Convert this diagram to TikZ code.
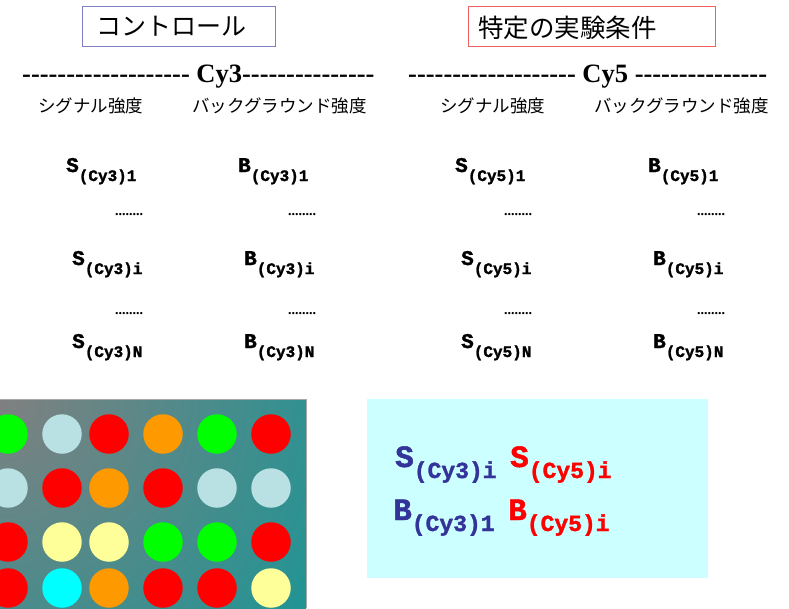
\documentclass[tikz,border=0pt]{standalone}
\usepackage{fontspec}
\newfontfamily\jp{Noto Sans CJK JP}
\newfontfamily\mono[BoldFeatures={FakeBold=1.5}]{Liberation Mono}
\newfontfamily\serifb{Liberation Serif}
\definecolor{boxblue}{HTML}{8080C0}
\definecolor{boxred}{HTML}{F06060}
\definecolor{labblue}{HTML}{333399}
\definecolor{labred}{HTML}{FF0000}
\definecolor{panelcyan}{HTML}{CCFFFF}
\definecolor{teal0}{HTML}{0F9898}
\definecolor{gray0}{HTML}{808080}
\definecolor{dgreen}{HTML}{00FF00}
\definecolor{dlblue}{HTML}{B9E0E3}
\definecolor{dred}{HTML}{FF0000}
\definecolor{dorange}{HTML}{FF9900}
\definecolor{dyellow}{HTML}{FFFF99}
\definecolor{dcyan}{HTML}{00FFFF}
\newcommand\smlab[2]{{\fontsize{21}{21}\selectfont #1}\raisebox{-9pt}{\fontsize{16}{16}\selectfont #2}}
\newcommand\bglab[2]{{\fontsize{31}{31}\selectfont #1}\raisebox{-11pt}{\fontsize{23}{23}\selectfont #2}}
\tikzset{
  hdr/.style={anchor=west, inner sep=0pt, font=\jp\fontsize{17.5}{17.5}\selectfont},
  dye/.style={anchor=base west, inner sep=0pt, font=\serifb\bfseries\fontsize{26.5}{26.5}\selectfont},
  val/.style={anchor=base west, inner sep=0pt, font=\mono\bfseries},
  dots/.style={anchor=base west, inner sep=0pt, font=\serifb\bfseries\fontsize{14}{14}\selectfont},
  spot/.style={circle, minimum size=39.5pt, inner sep=0pt},
}
\begin{document}
\begin{tikzpicture}[x=1pt,y=-1pt]
\useasboundingbox (0,0) rectangle (789,608);
% title boxes
\draw[boxblue, line width=1pt] (82,6) rectangle (275,46);
\node[anchor=west, inner sep=0pt, font=\jp\fontsize{25}{25}\selectfont] (tctl) at (96,26.5) {コントロール};
\draw[boxred, line width=1pt] (468,6) rectangle (715,46);
\node[anchor=west, inner sep=0pt, font=\jp\fontsize{25.5}{25.5}\selectfont] (texp) at (478,27.5) {特定の実験条件};
% dye lines
\node[dye] (cy3) at (22,82) {-------------------\ Cy3---------------};
\node[dye] (cy5) at (408,82) {-------------------\ Cy5 ---------------};
% headers
\node[hdr] (h1) at (38,106) {シグナル強度};
\node[hdr] (h2) at (192,106) {バックグラウンド強度};
\node[hdr] (h3) at (440,106) {シグナル強度};
\node[hdr] (h4) at (594,106) {バックグラウンド強度};
% Cy3 values
\node[val] (s31) at (66,172) {\smlab{S}{(Cy3)1}};
\node[val] (b31) at (238,172) {\smlab{B}{(Cy3)1}};
\node[dots] (d1) at (115,215) {........};
\node[dots] (d2) at (288,215) {........};
\node[val] (s3i) at (72,265) {\smlab{S}{(Cy3)i}};
\node[val] (b3i) at (244,265) {\smlab{B}{(Cy3)i}};
\node[dots] (d3) at (115,314) {........};
\node[dots] (d4) at (288,314) {........};
\node[val] (s3n) at (72,348) {\smlab{S}{(Cy3)N}};
\node[val] (b3n) at (244,348) {\smlab{B}{(Cy3)N}};
% Cy5 values
\node[val] (s51) at (455,172) {\smlab{S}{(Cy5)1}};
\node[val] (b51) at (648,172) {\smlab{B}{(Cy5)1}};
\node[dots] (d5) at (504,215) {........};
\node[dots] (d6) at (697,215) {........};
\node[val] (s5i) at (461,265) {\smlab{S}{(Cy5)i}};
\node[val] (b5i) at (653,265) {\smlab{B}{(Cy5)i}};
\node[dots] (d7) at (504,314) {........};
\node[dots] (d8) at (697,314) {........};
\node[val] (s5n) at (461,348) {\smlab{S}{(Cy5)N}};
\node[val] (b5n) at (653,348) {\smlab{B}{(Cy5)N}};
% microarray image
\begin{scope}
\clip (0,399) rectangle (306,608);
\fill[teal0] (0,399) rectangle (306,608);
\shade[inner color=gray0, outer color=teal0] (0,399) circle (440);
\foreach \r/\y in {1/434,2/488,3/542,4/588}{
  \foreach \c/\x in {1/8,2/62,3/109,4/163,5/217,6/271}{
    \coordinate (p\r\c) at (\x,\y);
  }
}
\foreach \n/\col in {11/dgreen,12/dlblue,13/dred,14/dorange,15/dgreen,16/dred,
  21/dlblue,22/dred,23/dorange,24/dred,25/dlblue,26/dlblue,
  31/dred,32/dyellow,33/dyellow,34/dgreen,35/dgreen,36/dred,
  41/dred,42/dcyan,43/dorange,44/dred,45/dred,46/dyellow}{
  \node[spot, fill=\col] (spot\n) at (p\n) {};
}
\end{scope}
\draw[gray!70, line width=1pt] (306,399) -- (306,608);
\draw[gray!70, line width=0.5pt] (0,399) -- (306,399);
% summary panel
\fill[panelcyan] (367,399) rectangle (708,578);
\node[val, text=labblue] (bs3) at (395,467) {\bglab{S}{(Cy3)i}};
\node[val, text=labred] (bs5) at (510,467) {\bglab{S}{(Cy5)i}};
\node[val, text=labblue] (bb3) at (393,520) {\bglab{B}{(Cy3)1}};
\node[val, text=labred] (bb5) at (508,520) {\bglab{B}{(Cy5)i}};
\end{tikzpicture}
\end{document}
